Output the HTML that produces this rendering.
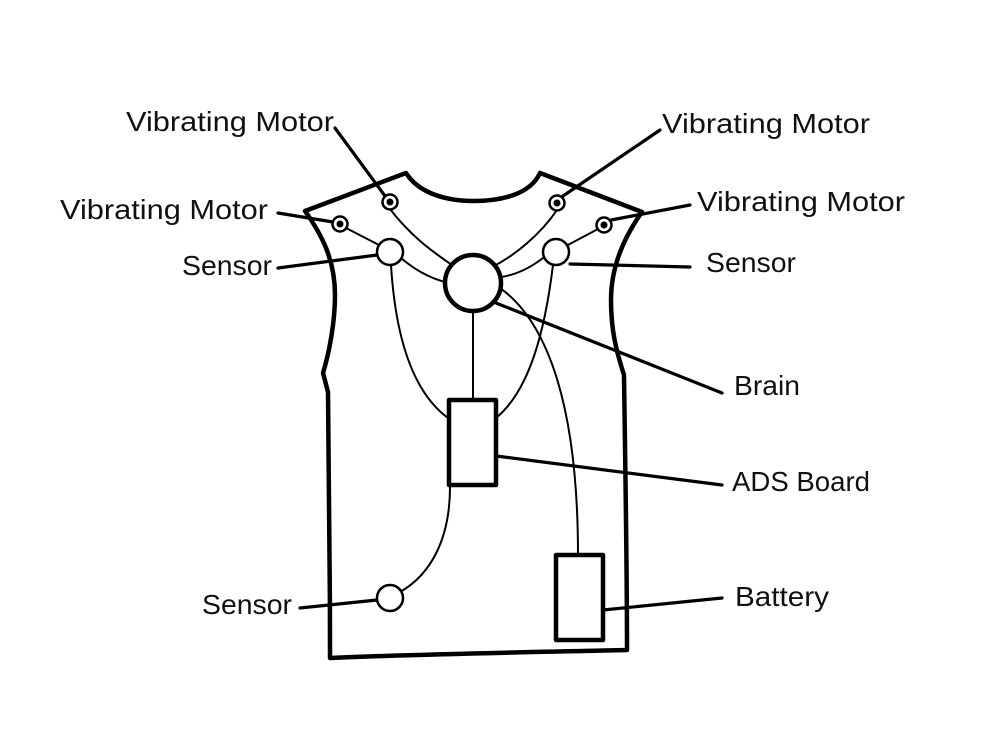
<!DOCTYPE html>
<html><head><style>body{margin:0;background:#fff}svg{display:block}text{font-family:"Liberation Sans",sans-serif;font-size:28px;fill:#111}</style></head><body>
<svg width="984" height="730" viewBox="0 0 984 730">
<g fill="none" stroke="#000" stroke-linecap="round" stroke-linejoin="round">
<path d="M305,211 L406,173 C420,195 450,201 473,201 C500,201 530,195 540,173 L642,212 C622,240 611,270 611,300 C611,330 616,350 624,375 C625,450 627,560 627,650 C540,652 420,654 330,658 C330,560 329,450 328,392 L323,373 C330,350 335,320 335,295 C335,260 322,235 305,211 Z" stroke-width="4.5"/>
<g stroke-width="2">
<path d="M390,209 C410,235 430,250 452,265"/>
<path d="M346,228 L379,245"/>
<path d="M557,210 C540,235 515,255 494,266"/>
<path d="M598,229 L566,246"/>
<path d="M401,258 C415,270 430,278 445,282"/>
<path d="M543,258 C530,268 515,275 501,277"/>
<path d="M473,311 L473,400"/>
<path d="M391,265 C395,330 410,390 448,418"/>
<path d="M553,265 C545,330 530,390 496,418"/>
<path d="M450,487 C450,540 430,575 400,592"/>
<path d="M500,288 C545,320 578,400 578,555"/>
</g>
<g stroke-width="3.2">
<path d="M335,128 L385,196"/>
<path d="M660,130 L563,196"/>
<path d="M278,213 L333,222"/>
<path d="M690,205 L611,220"/>
<path d="M278,268 L377,255"/>
<path d="M570,264 L690,267"/>
<path d="M496,303 L722,393"/>
<path d="M496,456 L722,485"/>
<path d="M603,610 L722,598"/>
<path d="M300,608 L377,600"/>
</g>
<g stroke-width="2.5" fill="#fff">
<circle cx="390" cy="252" r="13"/><circle cx="556" cy="252" r="13"/><circle cx="390" cy="598" r="13"/>
<circle cx="390" cy="202" r="7.5"/><circle cx="557" cy="203" r="7.5"/><circle cx="340" cy="224" r="7.5"/><circle cx="604" cy="225" r="7.5"/>
</g>
<circle cx="473" cy="283" r="28" stroke-width="4.5" fill="#fff"/>
<rect x="449" y="400" width="47" height="85" stroke-width="4.5" fill="#fff"/>
<rect x="556" y="555" width="47" height="85" stroke-width="4.5" fill="#fff"/>
</g>
<g fill="#000"><circle cx="390" cy="202" r="3.5"/><circle cx="557" cy="203" r="3.5"/><circle cx="340" cy="224" r="3.5"/><circle cx="604" cy="225" r="3.5"/></g>
<text x="126" y="131" textLength="208" lengthAdjust="spacingAndGlyphs">Vibrating Motor</text>
<text x="662" y="133" textLength="208" lengthAdjust="spacingAndGlyphs">Vibrating Motor</text>
<text x="60" y="219" textLength="208" lengthAdjust="spacingAndGlyphs">Vibrating Motor</text>
<text x="697" y="211" textLength="208" lengthAdjust="spacingAndGlyphs">Vibrating Motor</text>
<text x="182" y="275" textLength="90" lengthAdjust="spacingAndGlyphs">Sensor</text>
<text x="706" y="272" textLength="90" lengthAdjust="spacingAndGlyphs">Sensor</text>
<text x="734" y="395" textLength="66" lengthAdjust="spacingAndGlyphs">Brain</text>
<text x="732" y="491" textLength="138" lengthAdjust="spacingAndGlyphs">ADS Board</text>
<text x="735" y="606" textLength="94" lengthAdjust="spacingAndGlyphs">Battery</text>
<text x="202" y="614" textLength="90" lengthAdjust="spacingAndGlyphs">Sensor</text>
</svg></body></html>
